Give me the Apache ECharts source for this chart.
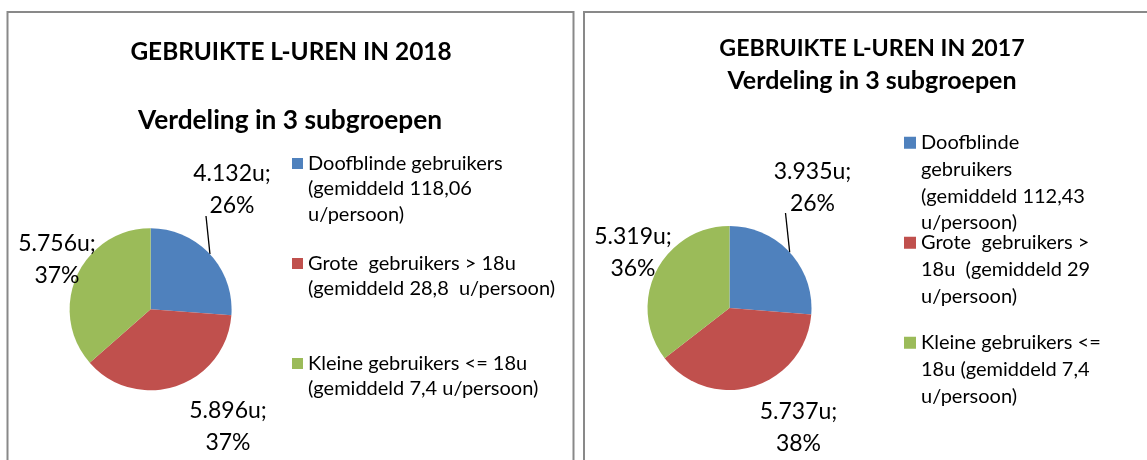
<!DOCTYPE html>
<html>
<head>
<meta charset="utf-8">
<script src="https://cdn.jsdelivr.net/npm/echarts@6/dist/echarts.min.js"></script>
<style>
    body { margin: 0; background: #fff; }
    #chart { width: 1147px; height: 460px; }
</style>
</head>
<body>
<div id="chart"></div>
<script>
const categories2018 = [
    'Doofblinde gebruikers\n(gemiddeld 118,06\nu/persoon)',
    'Grote  gebruikers > 18u\n(gemiddeld 28,8  u/persoon)',
    'Kleine gebruikers <= 18u\n(gemiddeld 7,4 u/persoon)'
]
const values2018 = [4132, 5896, 5756]

const categories2017 = [
    'Doofblinde\ngebruikers\n(gemiddeld 112,43\nu/persoon)',
    'Grote  gebruikers >\n18u  (gemiddeld 29\nu/persoon)',
    'Kleine gebruikers <=\n18u (gemiddeld 7,4\nu/persoon)'
]
const values2017 = [3935, 5737, 5319]

const titles2018 = ['GEBRUIKTE L-UREN IN 2018', 'Verdeling in 3 subgroepen']
const titles2017 = ['GEBRUIKTE L-UREN IN 2017', 'Verdeling in 3 subgroepen']

const colors = ['#4F81BD', '#C0504D', '#9BBB59']
const font = 'Lato'

// 4132 -> "4.132"
const dutchNumber = (v) => String(v).replace(/\B(?=(\d{3})+(?!\d))/g, '.')

// square icon on the first line of a multi-line legend text
function squareIcon(lines, lineHeight, size) {
    let h = lines * lineHeight
    let t = lineHeight / 2 - size / 2
    return `path://M0,0L${size},0M0,${h}L${size},${h}M0,${t}H${size}V${t + size}H0Z`
}

function padLines(name, lines) {
    let n = name.split('\n').length
    return name + '\n '.repeat(Math.max(0, lines - n))
}

function buildPie(names, values, center, radius, spots, lineEnd) {
    return {
        type: 'pie',
        center: center,
        radius: radius,
        startAngle: 90,
        clockwise: true,
        percentPrecision: 0,
        silent: true,
        itemStyle: { borderWidth: 0 },
        label: {
            show: true,
            position: 'outside',
            color: '#000',
            fontFamily: font,
            fontSize: 23,
            lineHeight: 32,
            overflow: 'none',
            formatter: (p) => `${dutchNumber(p.value)}u;\n${p.percent}%`
        },
        labelLine: {
            show: true,
            length: 10,
            length2: 10,
            lineStyle: { color: '#000', width: 1.3 }
        },
        labelLayout: (params) => {
            let s = spots[params.dataIndex]
            let out = { x: s[0], y: s[1], align: 'center', verticalAlign: 'middle' }
            if (params.labelLinePoints) {
                out.labelLinePoints = [
                    params.labelLinePoints[0],
                    [s[0] + lineEnd[0], s[1] + lineEnd[1]]
                ]
            }
            return out
        },
        data: names.map((n, i) => ({
            name: n,
            value: values[i],
            labelLine: { show: i === 0 }
        }))
    }
}

function buildLegend(names, left, top, lines, lineHeight, iconSize, gap) {
    return {
        orient: 'vertical',
        left: left,
        top: top,
        padding: 0,
        itemGap: gap,
        itemWidth: iconSize,
        itemHeight: lines * lineHeight,
        icon: squareIcon(lines, lineHeight, iconSize),
        selectedMode: false,
        itemStyle: { borderWidth: 0 },
        textStyle: {
            fontFamily: font,
            fontSize: 20,
            lineHeight: lineHeight,
            color: '#000'
        },
        formatter: (name) => padLines(name, lines),
        data: names
    }
}

function buildTitle(text, x, y, size) {
    return {
        text: text,
        left: x,
        top: y - 16,
        textAlign: 'center',
        padding: 0,
        textStyle: {
            fontFamily: font,
            fontWeight: 'bold',
            fontSize: size,
            lineHeight: 32,
            color: '#000'
        }
    }
}

let chart = echarts.init(document.getElementById('chart'), null, { renderer: 'canvas' })

let option = {
    animation: false,
    backgroundColor: '#fff',
    color: colors,
    title: [
        buildTitle(titles2018[0], 291, 52, 24.4),
        buildTitle(titles2018[1], 290, 121, 26.3),
        buildTitle(titles2017[0], 872, 49, 23.2),
        buildTitle(titles2017[1], 872, 81, 25)
    ],
    legend: [
        buildLegend(categories2018, 292, 150.75, 3, 25.5, 11, 23.5),
        buildLegend(categories2017, 904, 129.3, 4, 26.7, 12, -6.8)
    ],
    graphic: [
        {
            type: 'rect',
            shape: { x: 7.5, y: 12, width: 566, height: 500 },
            style: { fill: 'none', stroke: '#898989', lineWidth: 2 },
            silent: true
        },
        {
            type: 'rect',
            shape: { x: 584, y: 12, width: 600, height: 500 },
            style: { fill: 'none', stroke: '#898989', lineWidth: 2 },
            silent: true
        }
    ],
    series: [
        buildPie(categories2018, values2018, [150.6, 309.3], 81,
            [[232, 190], [228, 426.5], [57, 259.5]], [-26, 26]),
        buildPie(categories2017, values2017, [729.5, 308], 82,
            [[812.5, 188], [798.5, 427.5], [633, 253]], [-27, 25])
    ]
}

chart.setOption(option)
window.addEventListener('resize', chart.resize)
</script>
</body>
</html>
